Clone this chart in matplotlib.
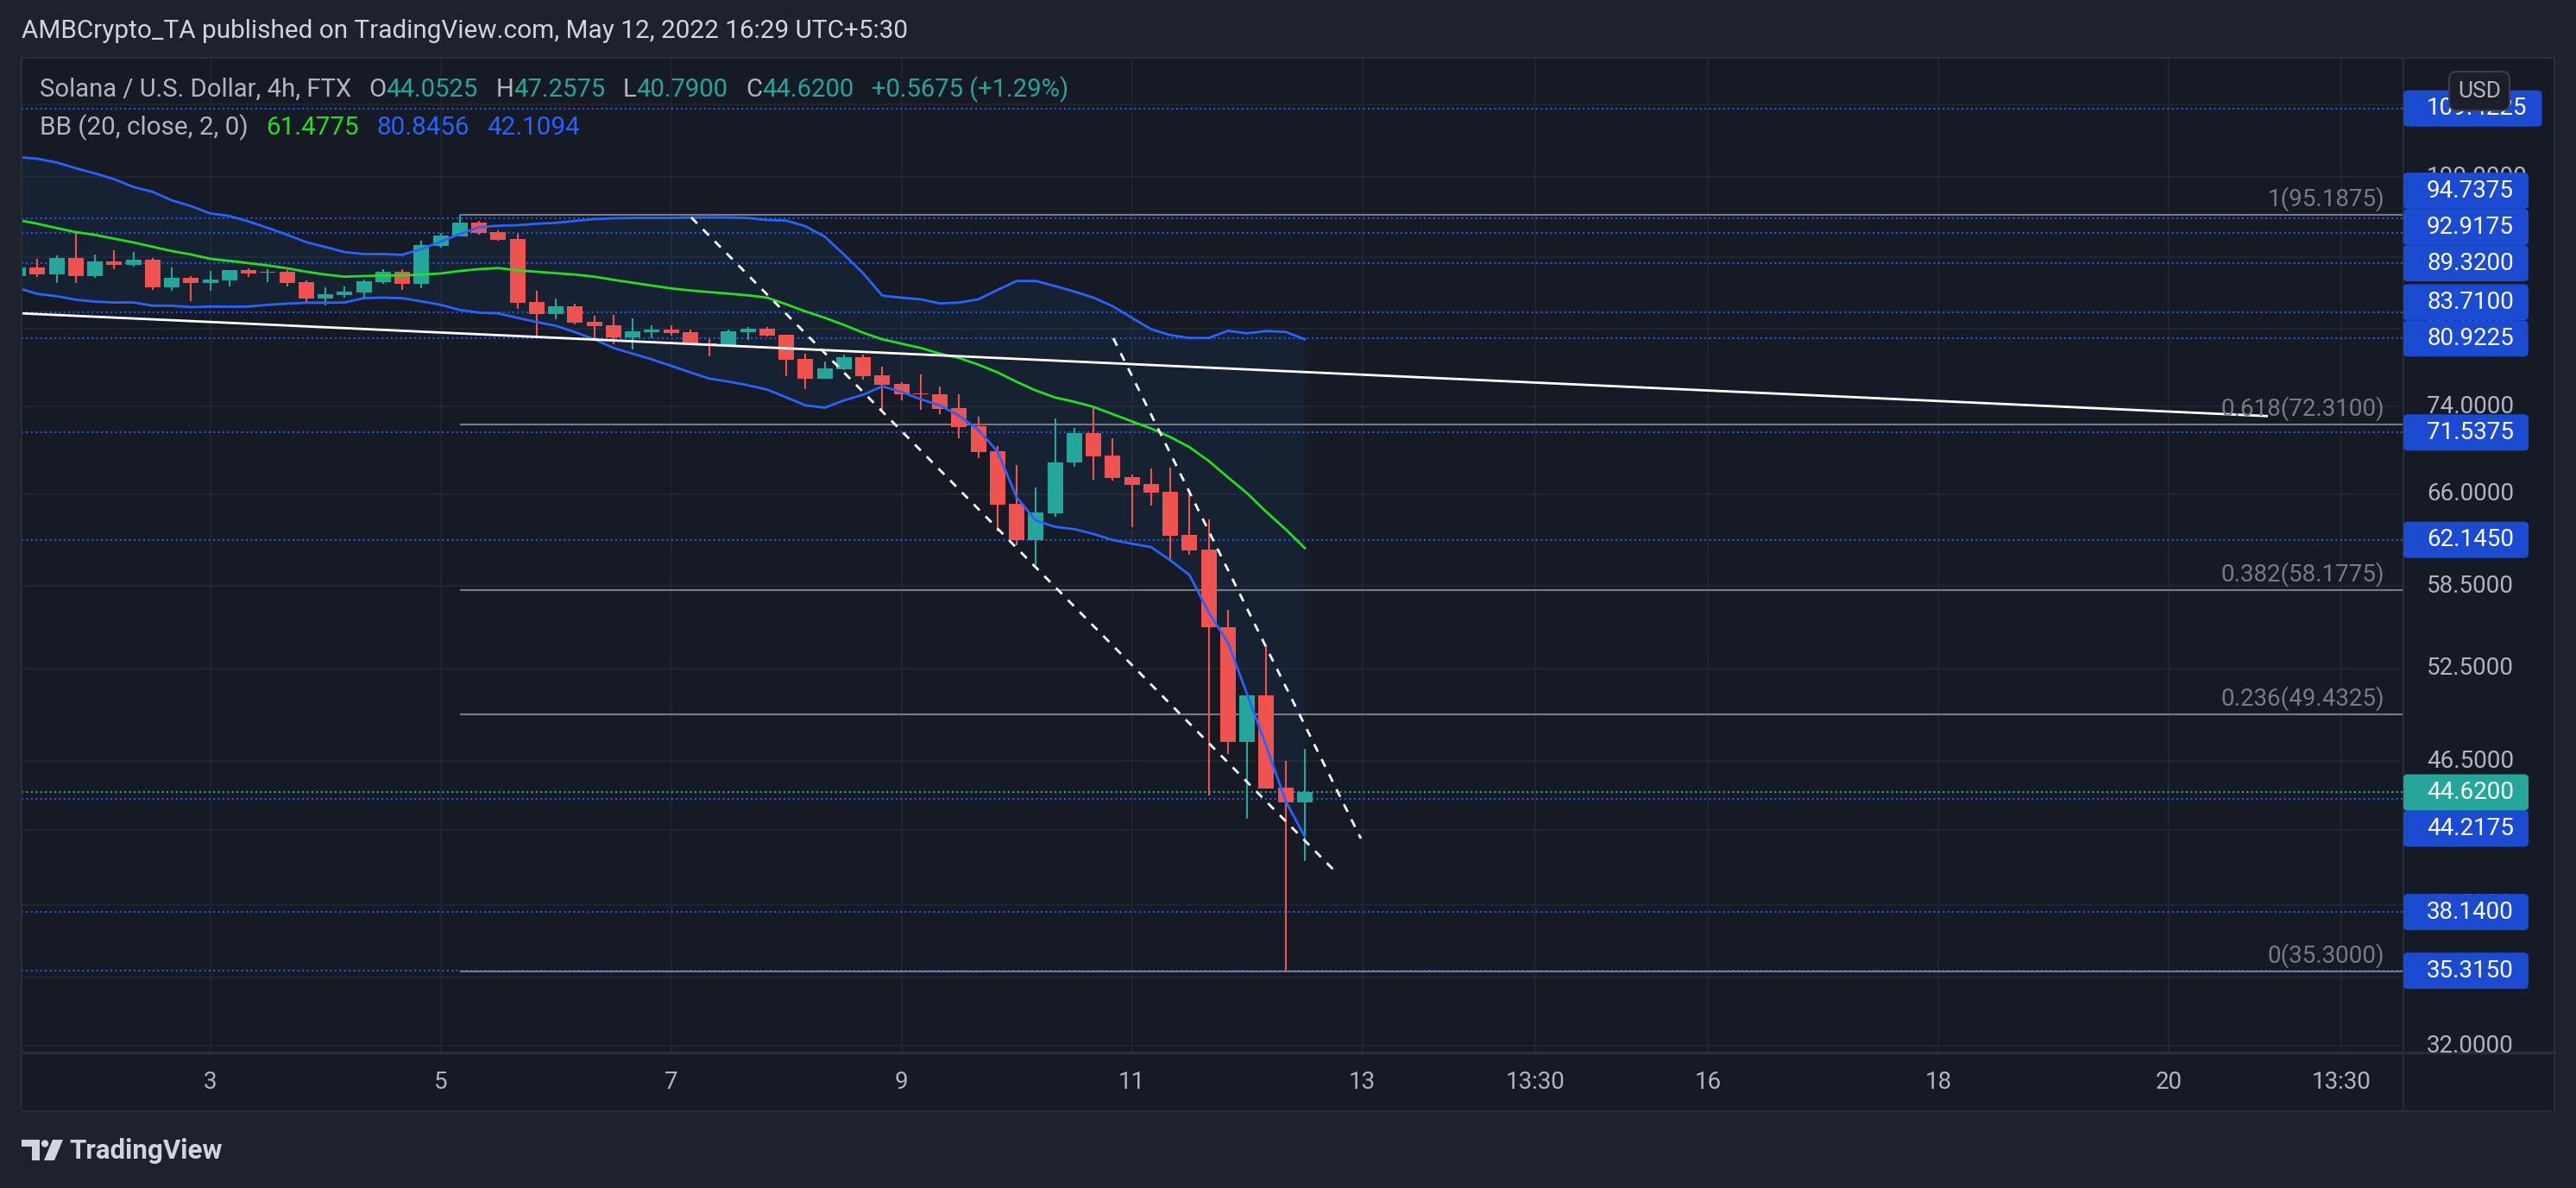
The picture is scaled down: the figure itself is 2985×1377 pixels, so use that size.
import numpy as np
import matplotlib
matplotlib.use("Agg")
import matplotlib.pyplot as plt
from matplotlib.patches import Rectangle, FancyBboxPatch, Polygon, Circle

# ---------------- data ----------------
FIRST_BAR_DAY = 1 + 8 / 24      # first visible 4h bar, in "day of May" units
BAR_DAYS = 4 / 24

OPEN = [87.83, 88.83, 88.06, 89.94, 87.86, 89.53, 89.16, 89.74, 86.58, 87.63,
        87.07, 87.37, 88.53, 88.22, 88.33, 87.14, 85.32, 85.70, 86.00, 87.17,
        88.33, 86.97, 91.38, 92.56, 94.21, 93.04, 92.21, 84.90, 83.60, 84.42,
        82.72, 82.34, 81.08, 81.63, 81.88, 81.60, 80.41, 80.26, 81.63, 81.97,
        81.33, 78.79, 76.80, 77.76, 78.97, 77.11, 76.24, 75.30, 75.22, 73.87,
        72.13, 69.80, 65.15, 62.15, 64.37, 68.81, 71.48, 69.41, 67.47, 66.87,
        66.19, 62.55, 61.36, 55.43, 47.69, 50.67, 44.89, 44.0525]
HIGH = [89.10, 89.84, 90.25, 93.01, 90.35, 90.86, 90.66, 89.94, 88.83, 87.83,
        88.43, 88.53, 88.73, 88.63, 88.53, 87.33, 86.55, 86.65, 87.43, 88.63,
        88.63, 92.00, 92.94, 95.19, 94.42, 93.26, 92.84, 86.16, 85.28, 84.71,
        83.38, 83.47, 83.09, 82.34, 82.34, 81.88, 80.87, 81.88, 82.16, 82.16,
        81.33, 79.33, 78.52, 79.24, 79.24, 77.99, 76.42, 77.20, 75.99, 75.22,
        73.04, 70.28, 68.55, 66.56, 72.87, 71.97, 73.95, 71.03, 67.70, 68.24,
        68.32, 66.34, 63.85, 56.68, 50.67, 54.04, 46.49, 47.2575]
LOW = [87.60, 87.76, 87.07, 87.07, 87.66, 88.66, 88.93, 86.29, 86.19, 85.03,
       86.19, 86.68, 87.76, 87.17, 86.68, 84.74, 84.55, 85.41, 85.41, 86.97,
       86.29, 86.48, 91.21, 92.56, 92.77, 92.00, 84.17, 81.17, 83.03, 82.47,
       80.90, 80.35, 79.81, 80.99, 81.26, 80.26, 79.09, 80.14, 80.81, 81.14,
       77.06, 75.76, 76.80, 77.64, 76.71, 73.60, 74.65, 73.73, 73.31, 71.03,
       69.20, 62.86, 61.73, 60.14, 64.08, 68.42, 67.27, 67.20, 63.21, 65.03,
       60.62, 60.97, 44.43, 46.90, 43.12, 44.84, 35.30, 40.79]
CLOSE = [88.83, 88.06, 89.94, 87.86, 89.53, 89.16, 89.74, 86.58, 87.63, 87.07,
         87.43, 88.53, 88.16, 88.29, 87.07, 85.32, 85.77, 86.06, 87.24, 88.33,
         86.97, 91.48, 92.62, 94.21, 92.98, 92.14, 84.84, 83.60, 84.42, 82.66,
         82.28, 81.08, 81.69, 81.88, 81.54, 80.41, 80.26, 81.69, 81.97, 81.26,
         78.73, 76.80, 77.82, 78.97, 77.06, 76.19, 75.24, 75.22, 73.81, 72.08,
         69.75, 65.10, 62.15, 64.42, 68.81, 71.48, 69.36, 67.42, 66.82, 66.14,
         62.50, 61.31, 55.43, 47.69, 50.67, 44.84, 44.0525, 44.62]

BB_UPPER = [102.67, 102.44, 101.94, 101.17, 100.49, 99.73, 98.72, 98.09, 97.00, 96.27,
            95.35, 95.03, 94.35, 93.55, 92.73, 91.83, 91.24, 90.64, 90.40, 90.40,
            90.31, 91.00, 91.90, 92.80, 93.64, 93.82, 93.89, 94.07, 94.18, 94.42,
            94.64, 94.75, 94.78, 94.78, 94.78, 94.85, 94.85, 94.85, 94.78, 94.53,
            94.46, 93.75, 92.49, 90.35, 88.16, 85.60, 85.38, 85.19, 84.74, 84.83,
            85.19, 86.25, 87.27, 87.27, 86.68, 86.06, 85.38, 84.42, 83.15, 81.91,
            81.29, 80.98, 80.98, 81.75, 81.48, 81.72, 81.63, 80.8456]
BB_BASIS = [94.53, 94.07, 93.54, 93.04, 92.70, 92.24, 91.79, 91.27, 90.76, 90.35,
            89.84, 89.60, 89.33, 89.06, 88.73, 88.33, 88.00, 87.76, 87.83, 87.90,
            87.90, 88.00, 88.13, 88.42, 88.63, 88.76, 88.49, 88.33, 88.16, 88.00,
            87.76, 87.40, 87.07, 86.74, 86.42, 86.19, 86.00, 85.83, 85.64, 85.38,
            84.64, 83.85, 83.16, 82.38, 81.54, 80.84, 80.38, 79.93, 79.33, 78.88,
            78.20, 77.41, 76.45, 75.59, 74.90, 74.48, 73.98, 73.28, 72.59, 71.91,
            71.11, 70.17, 68.92, 67.45, 66.06, 64.46, 63.02, 61.4775]
BB_LOWER = [86.45, 85.80, 85.54, 85.15, 84.93, 84.84, 84.84, 84.48, 84.48, 84.32,
            84.39, 84.36, 84.39, 84.58, 84.71, 84.81, 84.81, 84.84, 85.32, 85.38,
            85.32, 84.96, 84.58, 84.01, 83.72, 83.63, 83.15, 82.69, 82.28, 81.60,
            80.84, 79.92, 79.33, 78.73, 78.08, 77.41, 76.77, 76.48, 76.11, 75.68,
            74.91, 74.13, 73.90, 74.61, 75.17, 76.00, 75.45, 74.73, 74.12, 73.15,
            71.78, 69.77, 65.69, 63.73, 63.21, 63.02, 62.62, 62.13, 61.83, 61.55,
            60.50, 59.33, 56.50, 54.30, 50.75, 47.40, 44.12, 42.1094]

LEVELS = [109.4225, 94.7375, 92.9175, 89.32, 83.71, 80.9225, 71.5375, 62.145,
          44.2175, 38.14, 35.315]

FIB_RATIOS = ["1", "0.618", "0.382", "0.236", "0"]
FIB_PRICES = [95.1875, 72.31, 58.1775, 49.4325, 35.30]

TREND_DAYS = [1.36, 20.85]
TREND_PRICES = [83.64, 73.10]
CH1_DAYS = [7.175, 12.77]
CH1_PRICES = [94.85, 40.19]
CH2_DAYS = [10.838, 12.987]
CH2_PRICES = [80.96, 42.00]

PRICE_TICKS = [32, 35, 38.5, 42.5, 46.5, 52.5, 58.5, 66, 74, 82, 90, 100, 110]
TIME_TICKS = [3, 5, 7, 9, 11, 13, 14.5, 16, 18, 20, 21.5]
TIME_LABELS = ["3", "5", "7", "9", "11", "13", "13:30", "16", "18", "20", "13:30"]

HEADER = "AMBCrypto_TA published on TradingView.com, May 12, 2022 16:29 UTC+5:30"
SYMBOL = "Solana / U.S. Dollar, 4h, FTX"
BB_NAME = "BB (20, close, 2, 0)"

# ---------------- layout / style ----------------
W, H, DPI = 2985, 1377, 100
PANE_L, PANE_R, PANE_T, PANE_B = 24.7, 2785.0, 67.0, 1219.5
AXIS_R, TIME_B = 2960.0, 1288.0
X_LEFT, X_RIGHT = 1.36, 22.036
Y_MIN, Y_MAX = 31.74, 116.94

BG_OUT = "#1e222d"
BG_PANE = "#161a25"
FRAME = "#2a2e39"
GRID = "#212532"
TXT = "#b2b5be"
TXT_HEAD = "#d1d4dc"
UP = "#26a69a"
DN = "#ef5350"
BB_BLUE = "#2962ff"
LEVEL_BLUE = "#2157e6"
LABEL_BLUE = "#1a4bd1"
GREEN = "#22e01e"
FIB = "#787b86"
AXIS_FS = 20

plt.rcParams["font.family"] = ["Roboto", "DejaVu Sans"]

fig = plt.figure(figsize=(W / DPI, H / DPI), dpi=DPI, facecolor=BG_OUT)
ax = fig.add_axes([PANE_L / W, 1 - PANE_B / H, (PANE_R - PANE_L) / W, (PANE_B - PANE_T) / H],
                  zorder=1)
ax.set_facecolor(BG_PANE)
ax.set_yscale("log")
ax.set_xlim(X_LEFT, X_RIGHT)
ax.set_ylim(Y_MIN, Y_MAX)
for s in ax.spines.values():
    s.set_visible(False)
ax.minorticks_off()
ax.set_xticks([])
ax.set_yticks([])
ax.tick_params(which="both", length=0, labelleft=False, labelbottom=False)

o = np.array(OPEN); h = np.array(HIGH); l = np.array(LOW); c = np.array(CLOSE)
x = FIRST_BAR_DAY + np.arange(len(o)) * BAR_DAYS

# grid
ax.hlines(PRICE_TICKS, X_LEFT, X_RIGHT, colors=GRID, lw=1.4, zorder=0.5)
ax.vlines(TIME_TICKS, Y_MIN, Y_MAX, colors=GRID, lw=1.4, zorder=0.5)

# Bollinger band background
ax.fill_between(x, BB_LOWER, BB_UPPER, color="#2196f3", alpha=0.06, lw=0, zorder=1)

# horizontal level lines
ax.hlines(LEVELS, X_LEFT, X_RIGHT, colors=LEVEL_BLUE, lw=1.5,
          linestyles=[(0, (1, 1.6))], zorder=1.5)
ax.hlines([c[-1]], X_LEFT, X_RIGHT, colors=UP, lw=1.5,
          linestyles=[(0, (1, 1.6))], zorder=1.5)

# fib retracement lines (from bar of the high to the right edge)
fib_start = x[int(np.argmax(h))]
ax.hlines(FIB_PRICES, fib_start, X_RIGHT, colors=FIB, lw=1.5, zorder=1.6)

# candles
up = c >= o
cols = np.where(up, UP, DN)
bottom = np.minimum(o, c)
height = np.maximum(np.abs(c - o), bottom * 0.0012)
ax.vlines(x, l, h, colors=cols, lw=1.5, zorder=2.5)
ax.bar(x, height, bottom=bottom, width=0.135, color=cols, lw=0, zorder=3)

# Bollinger lines
ax.plot(x, BB_UPPER, color=BB_BLUE, lw=2, zorder=4)
ax.plot(x, BB_LOWER, color=BB_BLUE, lw=2, zorder=4)
ax.plot(x, BB_BASIS, color=GREEN, lw=2, zorder=4)

# drawings
ax.plot(TREND_DAYS, TREND_PRICES, color="white", lw=2, zorder=5)
ax.plot(CH1_DAYS, CH1_PRICES, color="white", lw=2, dashes=(3.5, 3.5), zorder=5)
ax.plot(CH2_DAYS, CH2_PRICES, color="white", lw=2, dashes=(3.5, 3.5), zorder=5)

# ---------------- overlay in pixel coordinates ----------------
ov = fig.add_axes([0, 0, 1, 1], zorder=10)
ov.set_xlim(0, W)
ov.set_ylim(H, 0)
ov.axis("off")
renderer = fig.canvas.get_renderer()


def py_of(p):
    return H - ax.transData.transform((X_LEFT, p))[1]


def px_of(d):
    return ax.transData.transform((d, Y_MIN))[0]


def text_w(t):
    return t.get_window_extent(renderer).width


# axis backgrounds and frame
ov.add_patch(Rectangle((PANE_R, PANE_T), AXIS_R - PANE_R, TIME_B - PANE_T,
                       fc=BG_PANE, ec="none", zorder=0))
ov.add_patch(Rectangle((PANE_L, PANE_B), PANE_R - PANE_L, TIME_B - PANE_B,
                       fc=BG_PANE, ec="none", zorder=0))
ov.add_patch(Rectangle((PANE_L, PANE_T), AXIS_R - PANE_L, TIME_B - PANE_T,
                       fill=False, ec=FRAME, lw=1.5, zorder=1))
ov.plot([PANE_R, PANE_R], [PANE_T, TIME_B], color=FRAME, lw=1.5, zorder=1)
ov.plot([PANE_L, AXIS_R], [PANE_B, PANE_B], color=FRAME, lw=2.5, zorder=1)

# price tick labels (clipped to the price scale)
clip = Rectangle((PANE_R, PANE_T), AXIS_R - PANE_R, PANE_B - PANE_T, transform=ov.transData)
TXT_X = 2812
for p in PRICE_TICKS:
    t = ov.text(TXT_X, py_of(p), f"{p:.4f}", color=TXT, fontsize=AXIS_FS,
                ha="left", va="center", zorder=2)
    t.set_clip_path(clip)

# price labels for the levels, stacked away from the last-price label
BOX_H = 42
last_y = py_of(c[-1])
placed = []
prev = last_y
for p in sorted([q for q in LEVELS if py_of(q) < last_y], key=lambda q: -py_of(q)):
    yy = min(py_of(p), prev - BOX_H)
    placed.append((p, yy, LABEL_BLUE))
    prev = yy
prev = last_y
for p in sorted([q for q in LEVELS if py_of(q) >= last_y], key=lambda q: py_of(q)):
    yy = max(py_of(p), prev + BOX_H)
    placed.append((p, yy, LABEL_BLUE))
    prev = yy
placed.append((c[-1], last_y, UP))

for p, yy, col in placed:
    t = ov.text(TXT_X, yy, f"{p:.4f}", color="white", fontsize=AXIS_FS,
                ha="left", va="center", zorder=4)
    wbox = TXT_X + text_w(t) + 17 - PANE_R
    ov.add_patch(FancyBboxPatch((PANE_R, yy - BOX_H / 2), wbox, BOX_H,
                                boxstyle="round,pad=0,rounding_size=5",
                                fc=col, ec="none", zorder=3))

# USD button
ov.add_patch(FancyBboxPatch((2838, 83), 70, 45, boxstyle="round,pad=0,rounding_size=9",
                            fc="#1c1f2a", ec="#3a3e4a", lw=1.5, zorder=5))
ov.text(2873, 106, "USD", color=TXT, fontsize=19, ha="center", va="center", zorder=6)

# time labels
for d, lab in zip(TIME_TICKS, TIME_LABELS):
    ov.text(px_of(d), 1255, lab, color=TXT, fontsize=AXIS_FS, ha="center", va="center",
            zorder=2)

# fib labels
for r, p in zip(FIB_RATIOS, FIB_PRICES):
    ov.text(2763, py_of(p) - 18, f"{r}({p:.4f})", color=FIB, fontsize=AXIS_FS,
            ha="right", va="center", zorder=2)


def draw_segments(x0, y, segs, size, gap_em, **kw):
    arts = []
    xx = x0
    for s, col, gap in segs:
        if gap:
            xx += gap_em * size * DPI / 72
        t = ov.text(xx, y, s, color=col, fontsize=size, ha="left", va="center",
                    zorder=6, **kw)
        xx += text_w(t)
        arts.append(t)
    return arts, xx - x0


def fitted(x0, y, segs, target_w, base=20, gap_em=0.7, **kw):
    arts, w = draw_segments(x0, y, segs, base, gap_em, **kw)
    for a in arts:
        a.remove()
    draw_segments(x0, y, segs, base * target_w / w, gap_em, **kw)


# header
fitted(24.9, 36, [(HEADER, TXT_HEAD, False)], 1024)

# legend
chg = c[-1] - c[-2]
pct = chg / c[-2] * 100
seg1 = [(SYMBOL, TXT, False),
        ("O", TXT, True), (f"{o[-1]:.4f}", UP, False),
        ("H", TXT, True), (f"{h[-1]:.4f}", UP, False),
        ("L", TXT, True), (f"{l[-1]:.4f}", UP, False),
        ("C", TXT, True), (f"{c[-1]:.4f}", UP, False),
        (f"{chg:+.4f} ({pct:+.2f}%)", UP, True)]
fitted(45.6, 104, seg1, 1195)
seg2 = [(BB_NAME, TXT, False),
        (f"{BB_BASIS[-1]:.4f}", GREEN, True),
        (f"{BB_UPPER[-1]:.4f}", BB_BLUE, True),
        (f"{BB_LOWER[-1]:.4f}", BB_BLUE, True)]
fitted(45.6, 148, seg2, 626)

# TradingView logo
ov.add_patch(Polygon([(25, 1321), (46, 1321), (46, 1345), (37, 1345), (37, 1329), (25, 1329)],
                     closed=True, fc=TXT_HEAD, ec="none", zorder=6))
ov.add_patch(Circle((52, 1325.5), 4.2, fc=TXT_HEAD, ec="none", zorder=6))
ov.add_patch(Polygon([(61, 1321), (73, 1321), (63, 1345), (51, 1345)],
                     closed=True, fc=TXT_HEAD, ec="none", zorder=6))
fitted(80, 1334, [("TradingView", TXT_HEAD, False)], 177, fontweight="bold")

fig.savefig("out.png", dpi=DPI, facecolor=BG_OUT)
